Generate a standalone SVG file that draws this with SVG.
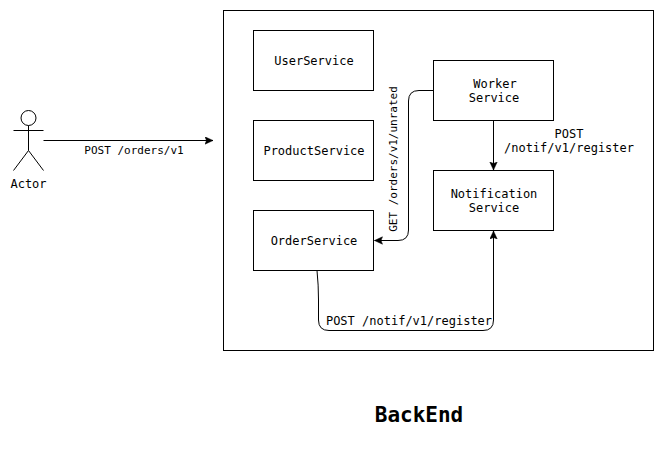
<svg xmlns="http://www.w3.org/2000/svg" width="665" height="451" viewBox="0 0 665 451">
<style>
text{font-family:"DejaVu Sans Mono",monospace;font-size:12px;fill:#000;text-anchor:middle}
.b{fill:#fff;stroke:#000;stroke-width:1}
.c{fill:none;stroke:#000;stroke-width:1}
</style>
<defs><marker id="a" markerUnits="userSpaceOnUse" markerWidth="10" markerHeight="10" refX="8" refY="4" orient="auto"><path d="M0 0.300L8 4L0 7.700L1.500 4Z" fill="#000" stroke="#000" stroke-width="0.500"/></marker></defs>
<rect width="665" height="451" fill="#fff"/>
<g id="backend"><rect class="b" x="223.500" y="10.500" width="430" height="340"/><text x="419" y="422" style="font-size:21px;font-weight:bold">BackEnd</text></g>
<g id="connectors">
<path class="c" d="M43.500 140.500H213" marker-end="url(#a)"/>
<path class="c" d="M433.500 90.500H419Q408.500 90.500 408.500 101V230Q408.500 240.500 398 240.500H374.500" marker-end="url(#a)"/>
<path class="c" d="M493.500 120.500V170" marker-end="url(#a)"/>
<path class="c" d="M317 270.500Q318.500 285 318.500 300V320Q318.500 330.500 329 330.500H483Q493.500 330.500 493.500 320V231" marker-end="url(#a)"/>
<text x="134" y="154" style="font-size:11px">POST /orders/v1</text>
<text transform="translate(397,159) rotate(-90)" style="font-size:11px">GET /orders/v1/unrated</text>
<text x="569" y="138">POST</text>
<text x="569" y="152">/notif/v1/register</text>
<text x="409" y="325">POST /notif/v1/register</text>
</g>
<g id="actor"><circle class="b" cx="28.500" cy="118" r="7.500"/><path class="c" d="M28.500 125.500V150.500M13.500 130.500H43.500M13.500 170.500L28.500 150.500L43.500 170.500"/><text x="28.500" y="188">Actor</text></g>
<g id="user-service"><rect class="b" x="253.500" y="30.500" width="120" height="60"/><text x="314" y="65">UserService</text></g>
<g id="product-service"><rect class="b" x="253.500" y="120.500" width="120" height="60"/><text x="314" y="155">ProductService</text></g>
<g id="order-service"><rect class="b" x="253.500" y="210.500" width="120" height="60"/><text x="314" y="245">OrderService</text></g>
<g id="worker-service"><rect class="b" x="433.500" y="60.500" width="120" height="60"/><text x="495" y="88">Worker</text><text x="494" y="102">Service</text></g>
<g id="notification-service"><rect class="b" x="433.500" y="170.500" width="120" height="60"/><text x="494" y="198">Notification</text><text x="494" y="212">Service</text></g>
</svg>
